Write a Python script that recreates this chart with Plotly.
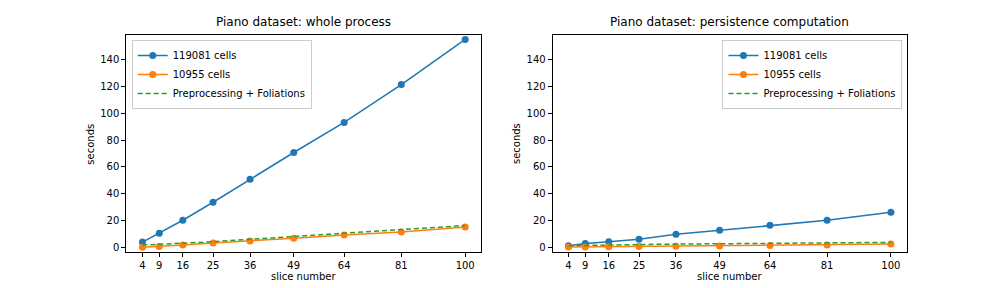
import plotly.graph_objects as go

slices = [4, 9, 16, 25, 36, 49, 64, 81, 100]
tick_labels = ["4", "9", "16", "25", "36", "49", "64", "81", "100"]

# Panel 1: whole process
whole_big = [3.9, 10.5, 20.2, 33.6, 50.8, 70.7, 93.1, 121.4, 155.0]
whole_small = [0.1, 0.6, 1.7, 3.3, 4.7, 6.8, 9.2, 11.5, 15.1]
whole_prep = [1.7, 2.2, 3.0, 4.2, 6.0, 8.0, 10.3, 13.0, 16.3]

# Panel 2: persistence computation
pers_big = [1.2, 2.8, 4.2, 6.1, 9.7, 12.7, 16.4, 20.1, 26.1]
pers_small = [0.2, 0.3, 0.4, 0.6, 0.8, 1.0, 1.4, 1.7, 2.4]
pers_prep = [1.2, 1.5, 1.9, 2.1, 2.4, 2.7, 3.0, 3.3, 3.7]

names = ["119081 cells", "10955 cells", "Preprocessing + Foliations"]
titles = ["Piano dataset: whole process", "Piano dataset: persistence computation"]
colors = ["#1f77b4", "#ff7f0e", "#2ca02c"]

FONT = "DejaVu Sans"
fig = go.Figure()

panels = [(whole_big, whole_small, whole_prep), (pers_big, pers_small, pers_prep)]
for i, (big, small, prep) in enumerate(panels):
    xa = "x" if i == 0 else "x2"
    ya = "y" if i == 0 else "y2"
    lg = "legend" if i == 0 else "legend2"
    fig.add_trace(go.Scatter(x=slices, y=big, name=names[0], mode="lines+markers",
                             line=dict(color=colors[0], width=1.5),
                             marker=dict(size=7, color=colors[0]),
                             xaxis=xa, yaxis=ya, legend=lg))
    fig.add_trace(go.Scatter(x=slices, y=small, name=names[1], mode="lines+markers",
                             line=dict(color=colors[1], width=1.5),
                             marker=dict(size=7, color=colors[1]),
                             xaxis=xa, yaxis=ya, legend=lg))
    fig.add_trace(go.Scatter(x=slices, y=prep, name=names[2], mode="lines",
                             line=dict(color=colors[2], width=1.5, dash="5px,3px"),
                             xaxis=xa, yaxis=ya, legend=lg))

ydom = [0.124, 0.877]
axis_common = dict(showline=True, linecolor="black", linewidth=1, mirror=True,
                   ticks="outside", ticklen=4, tickcolor="black", showgrid=False,
                   zeroline=False, tickfont=dict(size=10, color="black"))

fig.update_layout(
    width=1008, height=288,
    margin=dict(l=0, r=0, t=0, b=0),
    paper_bgcolor="white", plot_bgcolor="white",
    font=dict(family=FONT, size=10, color="black"),
    xaxis=dict(domain=[0.1253, 0.4775], range=[-0.8, 104.8], tickvals=slices,
               ticktext=tick_labels, anchor="y", **axis_common),
    yaxis=dict(domain=ydom, range=[-3.7, 158], tickvals=[0, 20, 40, 60, 80, 100, 120, 140],
               anchor="x", **axis_common),
    xaxis2=dict(domain=[0.5483, 0.8995], range=[-0.7, 104.7], tickvals=slices,
                ticktext=tick_labels, anchor="y2", **axis_common),
    yaxis2=dict(domain=ydom, range=[-3.7, 158], tickvals=[0, 20, 40, 60, 80, 100, 120, 140],
                anchor="x2", **axis_common),
    legend=dict(x=0.1307, y=0.861, xanchor="left", yanchor="top",
                bgcolor="rgba(255,255,255,0.8)", bordercolor="#cccccc", borderwidth=1,
                font=dict(size=10, family=FONT), tracegroupgap=0, itemwidth=30),
    legend2=dict(x=0.8953, y=0.861, xanchor="right", yanchor="top",
                 bgcolor="rgba(255,255,255,0.8)", bordercolor="#cccccc", borderwidth=1,
                 font=dict(size=10, family=FONT), tracegroupgap=0, itemwidth=30),
)

centers = [(0.1253 + 0.4775) / 2, (0.5483 + 0.8995) / 2]
for c, t in zip(centers, titles):
    fig.add_annotation(text=t, x=c, y=ydom[1], xref="paper", yref="paper",
                       xanchor="center", yanchor="bottom", yshift=4, showarrow=False,
                       font=dict(size=12, family=FONT, color="black"))
    fig.add_annotation(text="slice number", x=c, y=0, xref="paper", yref="paper",
                       xanchor="center", yanchor="bottom", yshift=4, showarrow=False,
                       font=dict(size=10, family=FONT, color="black"))

for xpos in [0.1253, 0.5483]:
    fig.add_annotation(text="seconds", x=xpos, y=(ydom[0] + ydom[1]) / 2,
                       xref="paper", yref="paper", xanchor="right", yanchor="middle",
                       xshift=-28, textangle=-90, showarrow=False,
                       font=dict(size=10, family=FONT, color="black"))

fig.write_html("out.html", config={"displayModeBar": False},
               post_script="document.body.style.margin='0';document.body.style.overflow='hidden';")
